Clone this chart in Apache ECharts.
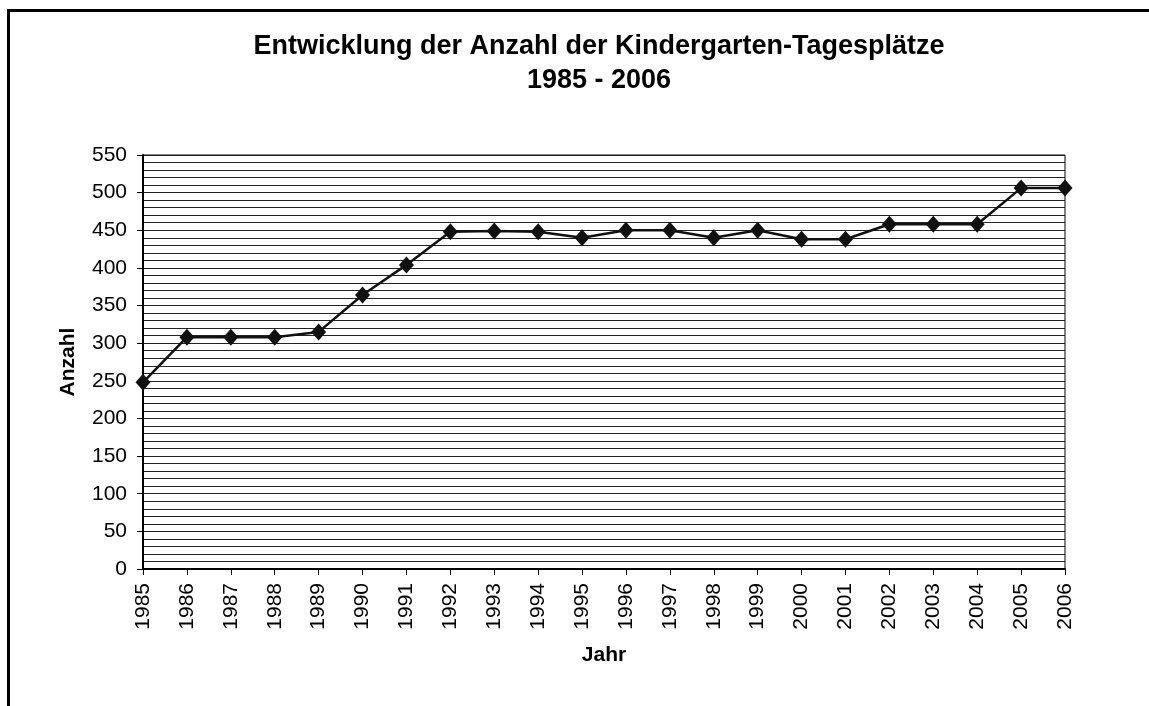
<!DOCTYPE html>
<html>
<head>
<meta charset="utf-8">
<script src="https://cdn.jsdelivr.net/npm/echarts@6/dist/echarts.min.js"></script>
<style>
  html, body { margin: 0; padding: 0; background: #fff; }
  #main { width: 1149px; height: 706px; }
</style>
</head>
<body>
<div id="main"></div>
<script>
// Jahre und Anzahl der Kindergarten-Tagesplätze
var years = ['1985', '1986', '1987', '1988', '1989', '1990', '1991', '1992', '1993', '1994', '1995',
    '1996', '1997', '1998', '1999', '2000', '2001', '2002', '2003', '2004', '2005', '2006'];
var places = [248, 308, 308, 308, 315, 364, 404, 448, 449, 448, 440,
    450, 450, 440, 450, 438, 438, 458, 458, 458, 506, 506];

var font = '"Liberation Sans", Arial, sans-serif';

var myChart = echarts.init(document.getElementById('main'));

var option = {
    backgroundColor: '#fff',
    animation: false,
    title: {
        text: 'Entwicklung der Anzahl der Kindergarten-Tagesplätze\n1985 - 2006',
        left: 594,
        top: 25,
        textAlign: 'center',
        textStyle: {
            fontFamily: font,
            fontSize: 27,
            fontWeight: 'bold',
            color: '#000',
            lineHeight: 34
        }
    },
    graphic: [{
        type: 'rect',
        shape: { x: 8.5, y: 10.5, width: 1200, height: 800 },
        style: { fill: 'none', stroke: '#000', lineWidth: 3 },
        silent: true
    }],
    grid: {
        left: 143,
        right: 84,
        top: 155,
        bottom: 137,
        show: true,
        borderColor: '#000',
        borderWidth: 1,
        backgroundColor: '#fff'
    },
    xAxis: {
        type: 'category',
        data: years,
        boundaryGap: false,
        name: 'Jahr',
        nameLocation: 'middle',
        nameGap: 76,
        nameTextStyle: { fontFamily: font, fontSize: 21, fontWeight: 'bold', color: '#000' },
        axisLine: { lineStyle: { color: '#000', width: 2 } },
        axisTick: { show: true, length: 6, lineStyle: { color: '#000' } },
        axisLabel: { rotate: 90, margin: 14, fontFamily: font, fontSize: 21, color: '#000', interval: 0 },
        splitLine: { show: false }
    },
    yAxis: {
        type: 'value',
        min: 0,
        max: 550,
        interval: 50,
        name: 'Anzahl',
        nameLocation: 'middle',
        nameGap: 64,
        nameTextStyle: { fontFamily: font, fontSize: 21, fontWeight: 'bold', color: '#000' },
        axisLine: { show: true, lineStyle: { color: '#000', width: 2 } },
        axisTick: { show: true, length: 6, lineStyle: { color: '#000' } },
        axisLabel: { margin: 16, fontFamily: font, fontSize: 21, color: '#000' },
        splitLine: { show: true, lineStyle: { color: '#222', width: 1 } },
        minorTick: { show: false, splitNumber: 5 },
        minorSplitLine: { show: true, lineStyle: { color: '#222', width: 1 } }
    },
    series: [{
        type: 'line',
        data: places,
        symbol: 'diamond',
        symbolSize: [15, 17],
        showSymbol: true,
        lineStyle: { color: '#111', width: 2.5 },
        itemStyle: { color: '#111' }
    }]
};

option && myChart.setOption(option);
</script>
</body>
</html>
